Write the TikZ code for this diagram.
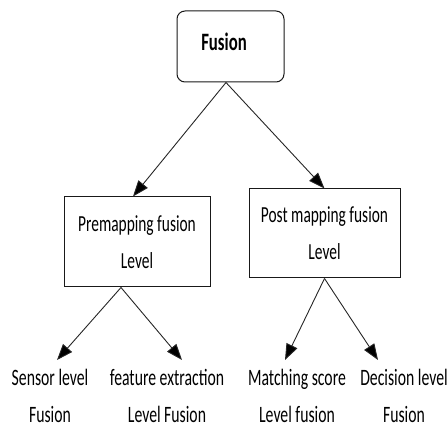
\documentclass[tikz,border=0pt]{standalone}
\usepackage{fontspec}
\setmainfont{Carlito}[FakeStretch=0.67]
\usetikzlibrary{arrows.meta}
\begin{document}
\begin{tikzpicture}[x=1pt,y=-1pt,
  box/.style={draw=black!90, line width=1pt, align=center, inner sep=0pt,
    font=\fontsize{23}{37}\selectfont},
  lab/.style={align=center, inner sep=0pt, anchor=north,
    font=\fontsize{23.5}{37}\selectfont},
  arr/.style={draw=black!85, line width=0.9pt, -{Triangle[length=16pt,width=12pt,fill=black]}}]
\useasboundingbox (0,0) rectangle (448,427);
% top box
\node[box, rounded corners=8pt, minimum width=107pt, minimum height=71pt] (fusion) at (230.5,46.5) {};
\node[inner sep=0pt, font=\fontsize{25}{30}\selectfont\bfseries] (fusiontxt) at (224,42) {Fusion};
% level boxes
\node[box, minimum width=146pt, minimum height=90pt] (pre) at (137,242) {Premapping fusion\\Level};
\node[box, minimum width=151pt, minimum height=89pt] (post) at (324.5,233.5) {Post mapping fusion\\Level};
% leaves
\node[lab] (sensor) at (50,369) {Sensor level\\Fusion};
\node[lab] (feature) at (167,369) {feature extraction\\Level Fusion};
\node[lab] (matching) at (297,369) {Matching score\\Level fusion};
\node[lab] (decision) at (404,369) {Decision level\\Fusion};
% connectors
\draw[arr] ([xshift=-4.5pt]fusion.south) -- ([xshift=-4pt]pre.north);
\draw[arr] ([xshift=-4.5pt]fusion.south) -- (post.north);
\draw[arr] ([xshift=-16pt]pre.south) -- ([xshift=7pt,yshift=9pt]sensor.north);
\draw[arr] ([xshift=-16pt]pre.south) -- ([xshift=15pt,yshift=9pt]feature.north);
\draw[arr] (post.south) -- ([xshift=-12pt,yshift=9pt]matching.north);
\draw[arr] (post.south) -- ([xshift=-26pt,yshift=9pt]decision.north);
\end{tikzpicture}
\end{document}
